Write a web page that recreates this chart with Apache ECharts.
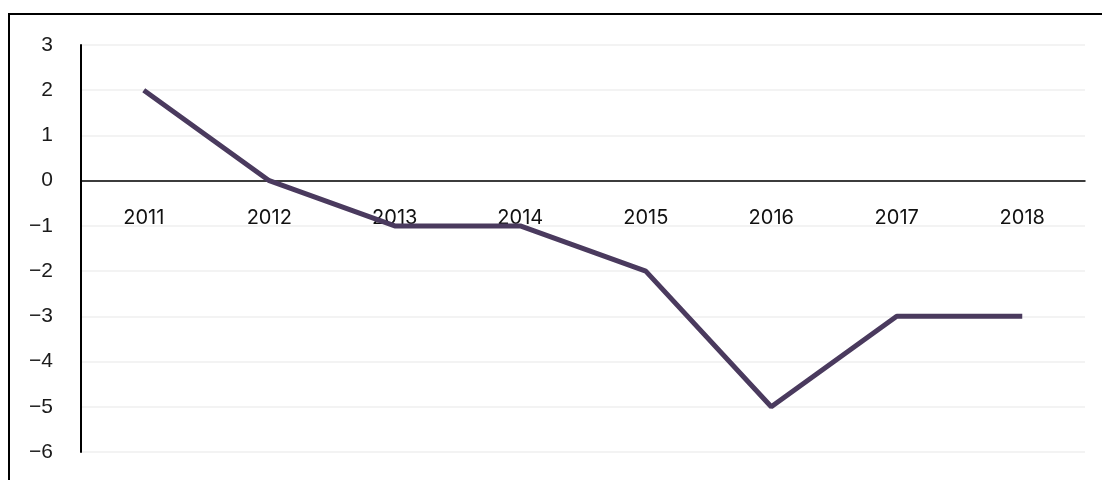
<!DOCTYPE html>
<html><head><meta charset="utf-8">
<script src="https://cdn.jsdelivr.net/npm/echarts@6/dist/echarts.min.js"></script>
<style>html,body{margin:0;padding:0;background:#fff;overflow:hidden}
#c{position:absolute;left:0;top:0;width:1102px;height:480px}
#f{position:absolute;left:8px;top:13px;width:1200px;height:600px;border:2px solid #000;pointer-events:none}
</style></head><body>
<div id="c"></div><div id="f"></div>
<script>
const categories = ['2011','2012','2013','2014','2015','2016','2017','2018'];
const values = [2, 0, -1, -1, -2, -5, -3, -3];
const yMin = -6, yMax = 3;
const gridTop = 45, gridBottom = 28, H = 480;
const plotH = H - gridTop - gridBottom;
const zeroOffset = plotH * (0 - yMin) / (yMax - yMin);
const chart = echarts.init(document.getElementById('c'));
chart.setOption({
  animation:false,
  grid:{left:81,right:17,top:gridTop,bottom:gridBottom,containLabel:false,outerBoundsMode:'none'},
  xAxis:{type:'category',data:categories,boundaryGap:true,position:'bottom',
    offset:-zeroOffset,
    axisLine:{onZero:false,lineStyle:{color:'#000',width:1.5}},
    axisTick:{show:false},
    axisLabel:{margin:27,fontSize:20,color:'#111',fontFamily:'Inter'},
    splitLine:{show:false}},
  yAxis:{type:'value',min:yMin,max:yMax,interval:1,
    axisLine:{show:true,lineStyle:{color:'#000',width:2}},
    axisTick:{show:false},
    axisLabel:{margin:28,fontSize:21,color:'#1a1a1a',fontFamily:'Liberation Sans',
      formatter:v=>String(v).replace('-','\u2212')},
    splitLine:{lineStyle:{color:'#efefef',width:1.5}}},
  series:[{type:'line',data:values,symbol:'none',
    lineStyle:{color:'#4a3a5e',width:5}}]
});
</script></body></html>
